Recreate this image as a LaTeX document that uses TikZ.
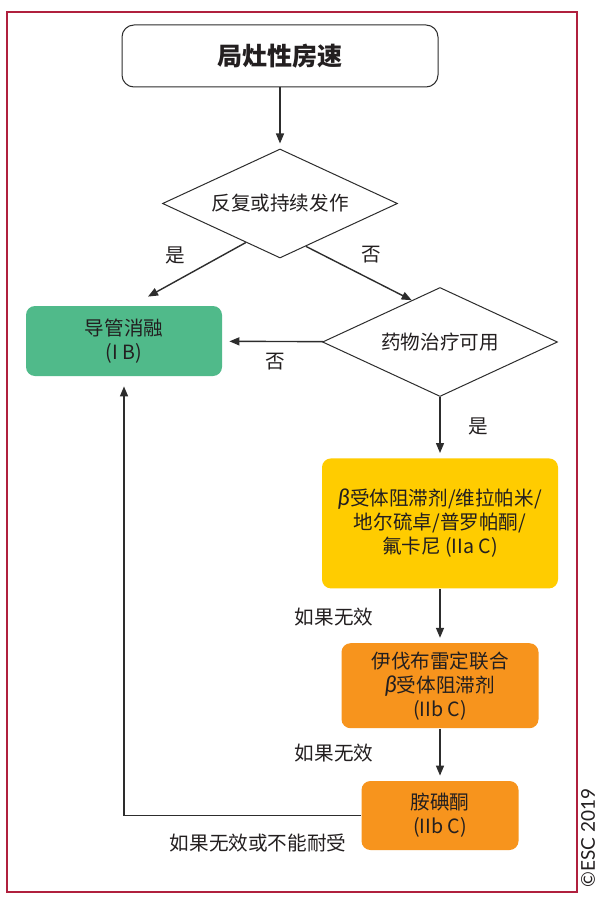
\documentclass[tikz,border=0pt]{standalone}
\usepackage{fontspec}
\setmainfont{Noto Sans CJK SC}
\newfontfamily\latinfont{Lato}
\usepackage{tikz}
\usetikzlibrary{positioning, arrows.meta, calc, shapes.geometric}

\definecolor{framered}{RGB}{176,32,62}
\definecolor{ablgreen}{RGB}{80,186,138}
\definecolor{drugyellow}{RGB}{255,204,0}
\definecolor{drugorange}{RGB}{247,148,29}
\definecolor{txtgray}{RGB}{35,31,32}
\definecolor{linegray}{RGB}{45,45,45}

\newcommand{\betasym}{{\latinfont\itshape\fontsize{11.5}{12}\selectfont β}}

\begin{document}
\begin{tikzpicture}[
    x=0.5pt, y=-0.5pt,
    txt/.style={font=\fontsize{9.8}{12}\selectfont, text=txtgray},
    startbox/.style={draw=linegray, line width=0.5pt, rounded corners=6pt,
                     minimum width=158pt, minimum height=31pt,
                     font=\fontsize{12.5}{14}\selectfont\bfseries, text=txtgray},
    decision/.style={txt, diamond, draw=linegray, line width=0.5pt, aspect=2.15,
                     inner sep=0pt, minimum width=117.5pt, minimum height=54.5pt},
    treat/.style={txt, rounded corners=4.5pt, align=center, inner sep=2pt},
    arr/.style={-{Triangle[length=5pt, width=4pt]}, line width=0.7pt,
                draw=linegray, shorten >=2.5pt},
]
\useasboundingbox (0,0) rectangle (599,909);
\fill[white] (0,0) rectangle (599,909);

% outer frame
\draw[framered, line width=1.2pt] (7,12) rectangle (577,892);

% start and first question
\node[startbox] (start) at (280,56) {局灶性房速};
\node[decision, below=30.5pt of start] (q1) {反复或持续发作};
\draw[arr] (start) -- (q1);

% ablation and drug question
\node[treat, fill=ablgreen, minimum width=98pt, minimum height=35pt] (abl) at (124,341) {导管消融\\(I B)};
\node[decision] (q2) at (440,342) {药物治疗可用};

\coordinate (yesend) at ($(abl.north)+(24,-9)$);
\draw[arr, shorten >=0pt] ($(q1.west)!0.71!(q1.south)$) -- (yesend);
\draw[arr, shorten >=0pt] ($(q1.south)!0.22!(q1.east)$) -- ($(q2.west)!0.76!(q2.north)$);
\node[txt] (yes1) at (175,255) {是};
\node[txt] (no1) at (371,255) {否};

\draw[arr, shorten >=3.5pt] (q2) -- (abl);
\node[txt] (no2) at (275,362) {否};

% drug therapy chain
\node[treat, fill=drugyellow, minimum width=118pt, minimum height=65pt, below=30.5pt of q2] (bb)
    {\betasym 受体阻滞剂/维拉帕米/\\地尔硫卓/普罗帕酮/\\氟卡尼 (IIa C)};
\draw[arr] (q2) -- (bb);
\node[txt] (yes2) at (478,426) {是};

\node[treat, fill=drugorange, minimum width=98.5pt, minimum height=42.5pt, below=27pt of bb] (iva)
    {伊伐布雷定联合\\\betasym 受体阻滞剂\\(IIb C)};
\draw[arr] (bb) -- (iva);
\node[txt] (fail1) at (334,617) {如果无效};

\node[treat, fill=drugorange, minimum width=78.5pt, minimum height=34.5pt, below=26pt of iva] (amio)
    {胺碘酮\\(IIb C)};
\draw[arr] (iva) -- (amio);
\node[txt] (fail2) at (334,753) {如果无效};

% back to ablation
\draw[arr, shorten >=5pt] (amio.west) -| (abl.south);
\node[txt] (fail3) at (258,843) {如果无效或不能耐受};

\node[rotate=90, font=\latinfont\fontsize{9.5}{11}\selectfont, text=txtgray, inner sep=1pt] (copy) at (588,838) {©ESC 2019};
\end{tikzpicture}
\end{document}
